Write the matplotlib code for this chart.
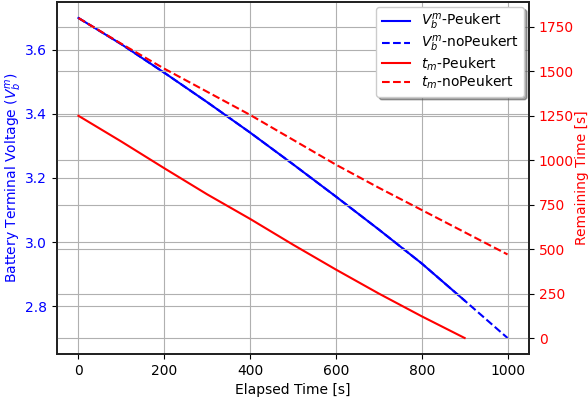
import matplotlib
matplotlib.use("Agg")
import matplotlib.pyplot as plt

# Data
time_s = [0, 100, 200, 300, 400, 500, 600, 700, 800, 900, 1000]
v_nopeukert = [3.70, 3.618, 3.529, 3.437, 3.342, 3.243, 3.142, 3.039, 2.933, 2.817, 2.70]
time_peukert = [0, 100, 200, 300, 400, 500, 600, 700, 800, 900]
v_peukert = [3.70, 3.618, 3.529, 3.437, 3.342, 3.243, 3.142, 3.039, 2.933, 2.817]
tm_peukert = [1250, 1105, 955, 808, 670, 525, 385, 250, 122, 0]
tm_nopeukert = [1800, 1655, 1515, 1385, 1255, 1115, 975, 845, 720, 595, 470]

fig = plt.figure(figsize=(5.88, 4.03), dpi=100)
ax = fig.add_axes([57/588, 1-354/403, (529-57)/588, (354-2)/403])
ax2 = ax.twinx()

l1, = ax.plot(time_peukert, v_peukert, color='b', lw=1.5, ls='-', label=r'$V_b^m$-Peukert')
l2, = ax.plot(time_s, v_nopeukert, color='b', lw=1.5, ls='--', label=r'$V_b^m$-noPeukert')
l3, = ax2.plot(time_peukert, tm_peukert, color='r', lw=1.5, ls='-', label=r'$t_m$-Peukert')
l4, = ax2.plot(time_s, tm_nopeukert, color='r', lw=1.5, ls='--', label=r'$t_m$-noPeukert')

ax.set_xlabel('Elapsed Time [s]')
ax.set_ylabel(r'Battery Terminal Voltage ($V_b^m$)', color='b', labelpad=1)
ax2.set_ylabel('Remaining Time [s]', color='r', labelpad=1)
ax.tick_params(axis='y', labelcolor='b')
ax2.tick_params(axis='y', labelcolor='r')

ax.set_xticks([0, 200, 400, 600, 800, 1000])
ax.set_yticks([2.8, 3.0, 3.2, 3.4, 3.6])
ax2.set_yticks([0, 250, 500, 750, 1000, 1250, 1500, 1750])

ax.grid(True, color='#b0b0b0', lw=0.8)
ax2.grid(True, color='#b0b0b0', lw=0.8)
ax.set_axisbelow(True)

for a in (ax, ax2):
    for s in a.spines.values():
        s.set_linewidth(1.3)
        s.set_color('#222222')

leg = ax2.legend(handles=[l1, l2, l3, l4], loc='upper right', shadow=True,
                 fancybox=True, framealpha=1.0, fontsize=10,
                 labelspacing=0.1, borderaxespad=0.35)

fig.savefig('out.png', dpi=100)
